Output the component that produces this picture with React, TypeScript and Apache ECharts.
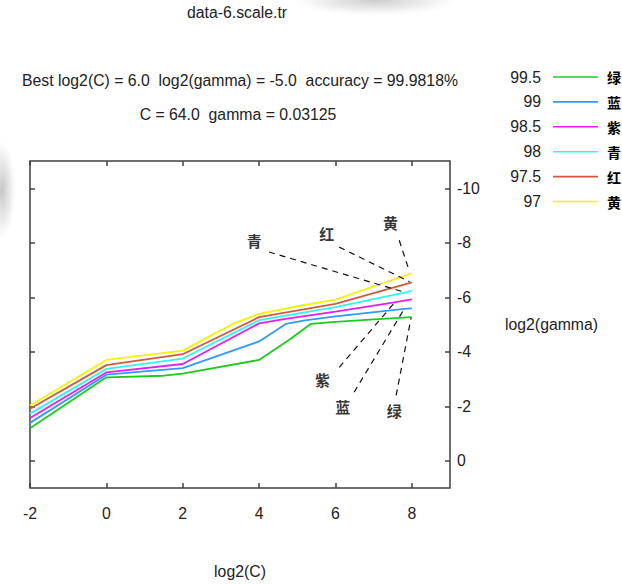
import React, { useEffect, useRef } from 'react';
import * as echarts from 'echarts';

// axis ticks
const cTicks = [-2, 0, 2, 4, 6, 8];
const gTicks = [-10, -8, -6, -4, -2, 0];

// contour levels (accuracy %) and their colour names
const levels = ['99.5', '99', '98.5', '98', '97.5', '97'];
const colorNames = ['绿', '蓝', '紫', '青', '红', '黄'];
const lineColors = ['#1ccc1c', '#3399ff', '#e020f0', '#30f4f4', '#d05a3c', '#f4f400'];

// contour lines: [log2(C), log2(gamma)]
const green = [[-2, -1.19], [0, -3.06], [1.5, -3.12], [2, -3.2], [4, -3.7], [4.8, -4.45], [5.35, -5.02], [6, -5.1], [6.9, -5.18], [8, -5.27]];
const blue = [[-2, -1.39], [0, -3.16], [2, -3.4], [4, -4.38], [4.7, -5.02], [5.2, -5.15], [6, -5.3], [7.8, -5.57], [8, -5.59]];
const magenta = [[-2, -1.57], [0, -3.24], [2, -3.55], [4, -5.04], [4.65, -5.2], [6, -5.47], [7.5, -5.8], [8, -5.92]];
const cyan = [[-2, -1.73], [0, -3.37], [2, -3.75], [4, -5.16], [6, -5.64], [7.9, -6.2], [8, -6.24]];
const red = [[-2, -1.91], [0, -3.51], [2, -3.91], [4, -5.27], [6, -5.76], [8, -6.55]];
const yellow = [[-2, -2.03], [0, -3.7], [2, -4.04], [3.34, -5.04], [4, -5.39], [5, -5.67], [6, -5.91], [8, -6.88]];
const contours = [green, blue, magenta, cyan, red, yellow];

// in-plot annotations (same order as colorNames)
const annoLabelPos = [[7.54, -1.85], [6.19, -1.98], [5.66, -3.0], [3.87, -8.09], [5.77, -8.33], [7.44, -8.75]];
const leaderFrom = [[7.59, -2.4], [6.49, -2.52], [6.1, -3.43], [4.26, -7.66], [6.1, -7.84], [7.67, -8.09]];
const leaderTo = [[7.98, -5.24], [7.8, -5.57], [7.54, -5.79], [7.85, -6.17], [7.94, -6.57], [7.94, -6.94]];

const titleText = 'data-6.scale.tr';
const bestLine1 = 'Best log2(C) = 6.0  log2(gamma) = -5.0  accuracy = 99.9818%';
const bestLine2 = 'C = 64.0  gamma = 0.03125';

export default function App() {
  const ref = useRef<HTMLDivElement>(null);
  useEffect(() => {
    const chart = echarts.init(ref.current!, null, { renderer: 'svg' });
    const font = "'Liberation Sans', Arial, sans-serif";
    const cjk = "'Noto Sans CJK SC', sans-serif";
    const txt = '#222';
    const frame = '#404040';
    const fs = 15.8;
    const cx = 239;

    const legendGraphics: any[] = [];
    levels.forEach((lv, i) => {
      const y = 77 + 24.9 * i;
      legendGraphics.push({
        type: 'text', x: 541, y,
        style: { text: lv, fill: txt, font: `${fs}px ${font}`, textAlign: 'right', textVerticalAlign: 'middle' },
      });
      legendGraphics.push({
        type: 'line', shape: { x1: 553, y1: y, x2: 598, y2: y },
        style: { stroke: lineColors[i], lineWidth: 1.6 },
      });
      legendGraphics.push({
        type: 'text', x: 607, y,
        style: { text: colorNames[i], fill: '#000', font: `bold 14px ${cjk}`, textAlign: 'left', textVerticalAlign: 'middle' },
      });
    });

    // faint scan smudges seen in the reference background
    const soft = (a: number) => new echarts.graphic.RadialGradient(0.5, 0.5, 0.5, [
      { offset: 0, color: `rgba(150,150,150,${a})` },
      { offset: 0.6, color: `rgba(180,180,180,${a * 0.5})` },
      { offset: 1, color: 'rgba(220,220,220,0)' },
    ]);
    const smudges: any[] = [
      { type: 'ellipse', z: -10, silent: true, shape: { cx: 375, cy: 0, rx: 85, ry: 16 }, style: { fill: soft(0.5) } },
      { type: 'ellipse', z: -10, silent: true, shape: { cx: 2, cy: 190, rx: 14, ry: 50 }, style: { fill: soft(0.55) } },
    ];

    const tickStyle = { color: frame, width: 1.5 };
    const noLine = { show: false, onZero: false };
    const option: any = {
      animation: false,
      backgroundColor: '#fff',
      grid: { left: 30, right: 172, top: 161, bottom: 93, show: true, borderColor: frame, borderWidth: 1.5, backgroundColor: 'transparent' },
      xAxis: [
        {
          type: 'value', min: -2, max: 9, position: 'bottom',
          axisLine: noLine, splitLine: { show: false },
          axisTick: { show: true, inside: true, length: 5, customValues: cTicks, lineStyle: tickStyle },
          axisLabel: { customValues: cTicks, margin: 17, fontFamily: font, fontSize: fs, color: txt },
          name: 'log2(C)', nameLocation: 'middle', nameGap: 75,
          nameTextStyle: { fontFamily: font, fontSize: fs, color: txt },
        },
        {
          type: 'value', min: -2, max: 9, position: 'top',
          axisLine: noLine, splitLine: { show: false },
          axisTick: { show: true, inside: true, length: 5, customValues: cTicks, lineStyle: tickStyle },
          axisLabel: { show: false },
        },
      ],
      yAxis: [
        {
          type: 'value', inverse: true, min: -11, max: 1, position: 'right',
          axisLine: noLine, splitLine: { show: false },
          axisTick: { show: true, inside: true, length: 5, customValues: gTicks, lineStyle: tickStyle },
          axisLabel: { customValues: gTicks, margin: 7, fontFamily: font, fontSize: fs, color: txt },
          name: 'log2(gamma)', nameLocation: 'middle', nameRotate: 0, nameGap: 55,
          nameTextStyle: { fontFamily: font, fontSize: fs, color: txt, align: 'left' },
        },
        {
          type: 'value', inverse: true, min: -11, max: 1, position: 'left',
          axisLine: noLine, splitLine: { show: false },
          axisTick: { show: true, inside: true, length: 5, customValues: gTicks, lineStyle: tickStyle },
          axisLabel: { show: false },
        },
      ],
      series: [
        ...contours.map((d, i) => ({
          type: 'line', name: levels[i], data: d, xAxisIndex: 0, yAxisIndex: 0,
          symbol: 'none', silent: true,
          lineStyle: { color: lineColors[i], width: 1.8 },
        })),
        {
          type: 'scatter', name: 'annotations', xAxisIndex: 0, yAxisIndex: 0,
          data: annoLabelPos.map((p, i) => ({ value: p, name: colorNames[i] })),
          symbolSize: 1, silent: true,
          itemStyle: { color: 'rgba(0,0,0,0)' },
          label: { show: true, position: 'inside', formatter: '{b}', fontSize: 15, fontWeight: 'bold', color: '#000', fontFamily: cjk },
          markLine: {
            silent: true, symbol: ['none', 'none'], label: { show: false },
            lineStyle: { type: [6, 5], color: '#111', width: 1.2 },
            data: leaderFrom.map((f, i) => [{ coord: f }, { coord: leaderTo[i] }]),
          },
        },
      ],
      graphic: [
        ...smudges,
        { type: 'text', x: cx - 2, y: 12, style: { text: titleText, fill: txt, font: `${fs}px ${font}`, textAlign: 'center', textVerticalAlign: 'middle' } },
        { type: 'text', x: cx + 1, y: 80, style: { text: bestLine1, fill: txt, font: `${fs}px ${font}`, textAlign: 'center', textVerticalAlign: 'middle' } },
        { type: 'text', x: cx - 1, y: 114, style: { text: bestLine2, fill: txt, font: `${fs}px ${font}`, textAlign: 'center', textVerticalAlign: 'middle' } },
        ...legendGraphics,
      ],
    };
    chart.setOption(option);
    return () => chart.dispose();
  }, []);
  return <div ref={ref} style={{ position: 'absolute', left: 0, top: 0, width: 622, height: 584 }} />;
}
